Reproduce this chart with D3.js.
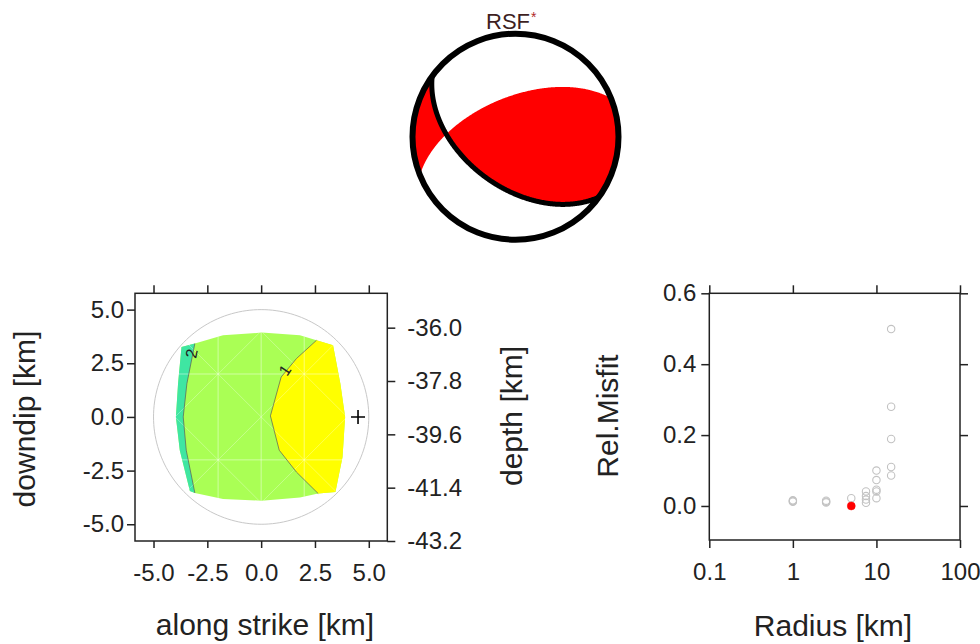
<!DOCTYPE html>
<html><head><meta charset="utf-8">
<script src="https://cdn.jsdelivr.net/npm/d3@7"></script>
<style>body{margin:0;background:#fff}svg{display:block}text{font-family:"Liberation Sans",Arial,Helvetica,sans-serif}</style>
</head><body><svg id="c" width="980" height="644"></svg>
<script>
// ---------------- data ----------------
const titleText = "RSF";
const titleMark = "*";
// focal mechanism (plane drawn in black), degrees
const strike = 126, dip = 49.5, rake = 136;

// left panel: slip / misfit patch outlines in km [along strike, downdip]
const outlineKm = [[-3.70,3.26],[-3.08,3.42],[-1.77,3.80],[0.02,3.93],[1.80,3.80],[2.57,3.57],[3.34,3.34],
  [3.68,1.55],[3.90,0],[3.78,-1.87],[3.45,-3.50],[2.65,-3.57],[1.80,-3.75],[0.02,-3.90],[-1.77,-3.82],
  [-3.08,-3.54],[-3.31,-3.45],[-3.78,-1.55],[-3.96,0],[-3.86,1.55]];
const contour1Km = [[2.57,3.57],[1.64,2.72],[0.93,1.86],[0.43,0.05],[0.84,-1.55],[1.64,-2.57],[2.65,-3.57]];
const contour2Km = [[-3.08,3.42],[-3.45,1.55],[-3.62,0],[-3.48,-1.55],[-3.08,-3.54]];
const yellowEdgeKm = [[3.45,-3.50],[3.78,-1.87],[3.90,0],[3.68,1.55],[3.34,3.34]];
const cyanEdgeKm = [[-3.31,-3.45],[-3.78,-1.55],[-3.96,0],[-3.86,1.55],[-3.70,3.26]];
const contourLevels = ["1","2"];
const contourLabelPos = [[1.10,2.18,-56],[-3.24,2.96,-78]];
const hypocentreKm = [4.5, 0];
const sourceRadiusKm = 5;
const meshLines = [-2, 0, 2];
const meshRows = [-2, 2];
const meshDiag = [-4, 0, 4];
const alongTicks = [-5, -2.5, 0, 2.5, 5];
const downdipTicks = [-5, -2.5, 0, 2.5, 5];
const depthTicks = [-43.2, -41.4, -39.6, -37.8, -36.0];

// right panel: radius vs relative misfit
const radiusKm = [1, 1, 1, 2.5, 2.5, 2.5, 5, 7.5, 7.5, 7.5, 7.5, 10, 10, 10, 10, 10, 15, 15, 15, 15, 15];
const relMisfit = [0.012, 0.016, 0.014, 0.010, 0.015, 0.012, 0.022, 0.041, 0.028, 0.018, 0.009,
  0.100, 0.073, 0.046, 0.041, 0.022, 0.499, 0.280, 0.189, 0.110, 0.086];
const bestRadius = [5];
const bestMisfit = [0.0];
const radiusTicks = [0.1, 1, 10, 100];
const radiusTickLabels = ["0.1", "1", "10", "100"];
const misfitTicks = [0, 0.2, 0.4, 0.6];

// ---------------- drawing ----------------
const svg = d3.select("#c");
svg.append("rect").attr("width", 980).attr("height", 644).attr("fill", "#fff");
const rad = Math.PI / 180;
const FONT_T = 24, FONT_A = 30;

// ===== beachball =====
const bcx = 515.5, bcy = 136.7, bR = 103;
const bx = d3.scaleLinear().domain([-1, 1]).range([bcx - bR, bcx + bR]);
const by = d3.scaleLinear().domain([-1, 1]).range([bcy + bR, bcy - bR]);

const phi = strike * rad, del = dip * rad, lam = rake * rad;
const nv = [-Math.sin(del) * Math.sin(phi), Math.sin(del) * Math.cos(phi), -Math.cos(del)];
const sv = [Math.cos(lam) * Math.cos(phi) + Math.sin(lam) * Math.cos(del) * Math.sin(phi),
            Math.cos(lam) * Math.sin(phi) - Math.sin(lam) * Math.cos(del) * Math.cos(phi),
            -Math.sin(lam) * Math.sin(del)];
const dot = (a, b) => a[0] * b[0] + a[1] * b[1] + a[2] * b[2];

const N = 261, ext = 1.1, step = 2 * ext / (N - 1);
const vals = new Array(N * N);
for (let j = 0; j < N; j++) {
  for (let i = 0; i < N; i++) {
    const u = -ext + i * step, w = ext - j * step;
    const r = Math.min(Math.hypot(u, w), 1);
    const th = 2 * Math.asin(r / Math.SQRT2);
    const t = Math.atan2(u, w);
    const v = [Math.sin(th) * Math.cos(t), Math.sin(th) * Math.sin(t), Math.cos(th)];
    vals[j * N + i] = dot(v, nv) * dot(v, sv);
  }
}
const cont = d3.contours().size([N, N]).thresholds([0])(vals);
const k = (bx(1) - bx(0)) * step;
const gp = d3.geoPath(d3.geoIdentity().scale(k).translate([bx(-ext) - k * 0.5, by(ext) - k * 0.5]));

const defs = svg.append("defs");
defs.append("clipPath").attr("id", "bbclip").append("circle")
  .attr("cx", bx(0)).attr("cy", by(0)).attr("r", bx(1) - bx(0));

svg.append("circle").attr("cx", bx(0)).attr("cy", by(0)).attr("r", bx(1) - bx(0)).attr("fill", "#fff");
svg.append("g").attr("clip-path", "url(#bbclip)").selectAll("path").data(cont).join("path")
  .attr("d", gp).attr("fill", "#ff0000").attr("stroke", "none");

// nodal plane (fault plane) as great circle
const planePts = d3.range(0, 180.01, 0.5).map(a => {
  const al = a * rad;
  const s1 = [Math.cos(phi), Math.sin(phi), 0];
  const d1 = [-Math.sin(phi) * Math.cos(del), Math.cos(phi) * Math.cos(del), Math.sin(del)];
  const v = [0, 1, 2].map(q => Math.cos(al) * s1[q] + Math.sin(al) * d1[q]);
  const th = Math.acos(Math.max(-1, Math.min(1, v[2])));
  const t = Math.atan2(v[1], v[0]);
  const r = Math.SQRT2 * Math.sin(th / 2);
  return [r * Math.sin(t), r * Math.cos(t)];
});
svg.append("path").attr("clip-path", "url(#bbclip)")
  .attr("d", d3.line().x(d => bx(d[0])).y(d => by(d[1]))(planePts))
  .attr("fill", "none").attr("stroke", "#000").attr("stroke-width", 5);
svg.append("circle").attr("cx", bx(0)).attr("cy", by(0)).attr("r", bx(1) - bx(0))
  .attr("fill", "none").attr("stroke", "#000").attr("stroke-width", 6);

const tt = svg.append("text").attr("x", 486).attr("y", 28.5).attr("font-size", 22).attr("fill", "#3e1f1f");
tt.append("tspan").text(titleText);
tt.append("tspan").attr("dy", -7).attr("dx", 1).attr("font-size", 14).attr("fill", "#b02a2a").text(titleMark);

// ===== left panel =====
const xL = d3.scaleLinear().domain([-5.86, 5.86]).range([135, 387.3]);
const yL = d3.scaleLinear().domain([-5.78, 5.76]).range([541, 293.3]);
const dL = d3.scaleLinear().domain([-43.2, -34.84]).range([541, 293.3]);
const lineKm = d3.line().x(d => xL(d[0])).y(d => yL(d[1]));

defs.append("clipPath").attr("id", "patchclip").append("path").attr("d", lineKm(outlineKm) + "Z");

svg.append("path").attr("d", lineKm(outlineKm) + "Z").attr("fill", "#aaff55");
svg.append("path").attr("d", lineKm(contour1Km.concat(yellowEdgeKm)) + "Z").attr("fill", "#ffff00");
svg.append("path").attr("d", lineKm(contour2Km.concat(cyanEdgeKm)) + "Z").attr("fill", "#3fe6a2");

// faint mesh
const mesh = svg.append("g").attr("clip-path", "url(#patchclip)")
  .attr("stroke", "#ffffff").attr("stroke-opacity", 0.45).attr("stroke-width", 1);
meshLines.forEach(x => mesh.append("line").attr("x1", xL(x)).attr("x2", xL(x)).attr("y1", yL(-5)).attr("y2", yL(5)));
meshRows.forEach(y => mesh.append("line").attr("x1", xL(-5)).attr("x2", xL(5)).attr("y1", yL(y)).attr("y2", yL(y)));
meshDiag.forEach(c => {
  mesh.append("line").attr("x1", xL(-5)).attr("y1", yL(-5 + c)).attr("x2", xL(5)).attr("y2", yL(5 + c)).attr("stroke-opacity", 0.3);
  mesh.append("line").attr("x1", xL(-5)).attr("y1", yL(5 + c)).attr("x2", xL(5)).attr("y2", yL(-5 + c)).attr("stroke-opacity", 0.3);
});

[contour1Km, contour2Km].forEach(c => svg.append("path").attr("d", lineKm(c))
  .attr("fill", "none").attr("stroke", "#5a5a5a").attr("stroke-width", 0.7));

contourLabelPos.forEach((p, i) => {
  svg.append("text").attr("transform", `translate(${xL(p[0])},${yL(p[1])}) rotate(${p[2]})`)
    .attr("text-anchor", "middle").attr("dy", "0.35em").attr("font-size", 16).attr("fill", "#222")
    .text(contourLevels[i]);
});

// source circle
const circPts = d3.range(0, 361, 2).map(a => [sourceRadiusKm * Math.cos(a * rad), sourceRadiusKm * Math.sin(a * rad)]);
svg.append("path").attr("d", lineKm(circPts)).attr("fill", "none").attr("stroke", "#c8c8c8").attr("stroke-width", 1);

// hypocentre cross
const hx = xL(hypocentreKm[0]), hy = yL(hypocentreKm[1]);
svg.append("path").attr("d", `M${hx - 7},${hy}H${hx + 7}M${hx},${hy - 7}V${hy + 7}`)
  .attr("stroke", "#000").attr("stroke-width", 1.6);

// box
svg.append("rect").attr("x", xL.range()[0]).attr("y", yL.range()[1])
  .attr("width", xL.range()[1] - xL.range()[0]).attr("height", yL.range()[0] - yL.range()[1])
  .attr("fill", "none").attr("stroke", "#222").attr("stroke-width", 1.5);

function styleAxis(g) {
  g.select(".domain").remove();
  g.selectAll(".tick line").attr("stroke", "#222").attr("stroke-width", 1.5);
  g.selectAll("text").attr("font-size", FONT_T).attr("fill", "#222")
    .attr("font-family", '"Liberation Sans",Arial,sans-serif');
}
const f1 = d => d.toFixed(1);
svg.append("g").attr("transform", `translate(0,${yL.range()[0]})`)
  .call(d3.axisBottom(xL).tickValues(alongTicks).tickFormat(f1).tickSize(7).tickSizeOuter(0).tickPadding(16)).call(styleAxis);
svg.append("g").attr("transform", `translate(0,${yL.range()[1]})`)
  .call(d3.axisTop(xL).tickValues(alongTicks).tickFormat("").tickSize(8).tickSizeOuter(0)).call(styleAxis);
svg.append("g").attr("transform", `translate(${xL.range()[0]},0)`)
  .call(d3.axisLeft(yL).tickValues(downdipTicks).tickFormat(f1).tickSize(8).tickSizeOuter(0).tickPadding(3)).call(styleAxis);
svg.append("g").attr("transform", `translate(${xL.range()[1]},0)`)
  .call(d3.axisRight(dL).tickValues(depthTicks).tickFormat(f1).tickSize(8).tickSizeOuter(0).tickPadding(12)).call(styleAxis);

svg.append("text").attr("x", 265).attr("y", 635).attr("text-anchor", "middle")
  .attr("font-size", FONT_A).attr("fill", "#222").text("along strike [km]");
svg.append("text").attr("transform", "translate(35,419) rotate(-90)").attr("text-anchor", "middle")
  .attr("font-size", FONT_A).attr("fill", "#222").text("downdip [km]");
svg.append("text").attr("transform", "translate(522,416) rotate(-90)").attr("text-anchor", "middle")
  .attr("font-size", FONT_A).attr("fill", "#222").text("depth [km]");

// ===== right panel =====
const xR = d3.scaleLog().domain([0.1, 100]).range([709.3, 960]);
const yR = d3.scaleLinear().domain([-0.096, 0.6]).range([540, 293.3]);

svg.append("g").selectAll("circle").data(radiusKm).join("circle")
  .attr("cx", d => xR(d)).attr("cy", (d, i) => yR(relMisfit[i])).attr("r", 3.7)
  .attr("fill", "none").attr("stroke", "#c2c2c2").attr("stroke-width", 1.1);
svg.append("g").selectAll("circle").data(bestRadius).join("circle")
  .attr("cx", d => xR(d)).attr("cy", (d, i) => yR(bestMisfit[i])).attr("r", 4)
  .attr("fill", "#ff0000").attr("stroke", "#ff0000").attr("stroke-width", 0.5);

svg.append("rect").attr("x", xR.range()[0]).attr("y", yR.range()[1])
  .attr("width", xR.range()[1] - xR.range()[0]).attr("height", yR.range()[0] - yR.range()[1])
  .attr("fill", "none").attr("stroke", "#222").attr("stroke-width", 1.5);

svg.append("g").attr("transform", `translate(0,${yR.range()[0]})`)
  .call(d3.axisBottom(xR).tickValues(radiusTicks).tickFormat((d, i) => radiusTickLabels[i]).tickSize(8).tickSizeOuter(0).tickPadding(15)).call(styleAxis);
svg.append("g").attr("transform", `translate(0,${yR.range()[1]})`)
  .call(d3.axisTop(xR).tickValues(radiusTicks).tickFormat("").tickSize(8).tickSizeOuter(0)).call(styleAxis);
svg.append("g").attr("transform", `translate(${xR.range()[0]},0)`)
  .call(d3.axisLeft(yR).tickValues(misfitTicks).tickFormat(f1).tickSize(8).tickSizeOuter(0).tickPadding(5)).call(styleAxis);
svg.append("g").attr("transform", `translate(${xR.range()[1]},0)`)
  .call(d3.axisRight(yR).tickValues(misfitTicks).tickFormat("").tickSize(8).tickSizeOuter(0)).call(styleAxis);

svg.append("text").attr("x", 833).attr("y", 636).attr("text-anchor", "middle")
  .attr("font-size", FONT_A).attr("fill", "#222").text("Radius [km]");
svg.append("text").attr("transform", "translate(618,416) rotate(-90)").attr("text-anchor", "middle")
  .attr("font-size", FONT_A).attr("fill", "#222").text("Rel.Misfit");
</script></body></html>
